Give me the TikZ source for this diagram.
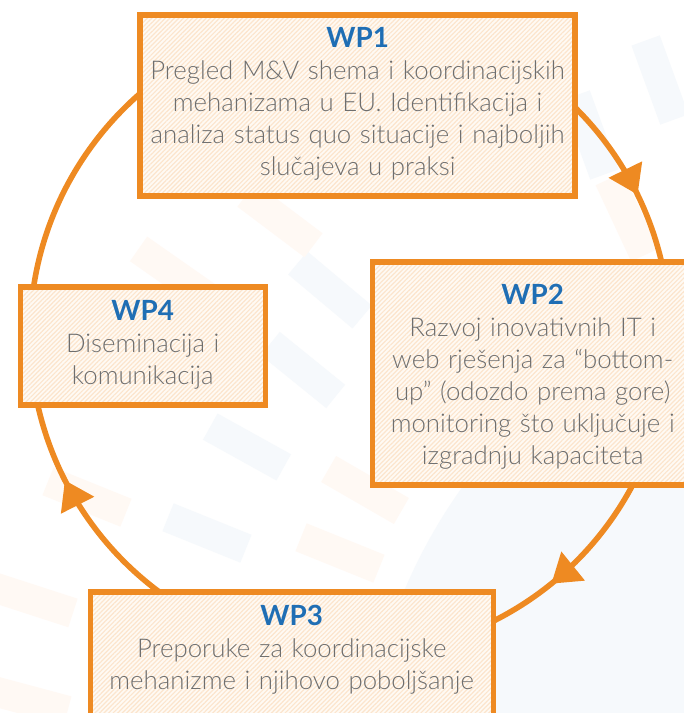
\documentclass[tikz,border=0pt]{standalone}
\usepackage{fontspec}
\setmainfont{Lato}
\IfFontExistsTF{Lato Light}{\newfontfamily\bodyfont{Lato Light}}{\newcommand\bodyfont{\normalfont}}
\usepackage{tikz}
\usetikzlibrary{positioning, arrows.meta, patterns.meta, decorations.markings}

\definecolor{wporange}{HTML}{EE8A22}
\definecolor{wpblue}{HTML}{1F6EB4}
\definecolor{bodygray}{HTML}{6E6E6E}
\definecolor{boxfill}{HTML}{FFFAF4}
\definecolor{boxline}{HTML}{FCE5CD}
\definecolor{bgblue}{HTML}{F6F9FC}
\definecolor{bgorange}{HTML}{FFF9F4}

\newcommand\wptitle[1]{{\normalfont\bfseries\fontsize{13.9}{16}\selectfont\color{wpblue}#1}}

\begin{document}
\begin{tikzpicture}[x=0.5pt, y=0.5pt,
    wpbox/.style={draw=wporange, line width=2.7pt, preaction={fill=boxfill},
        pattern={Lines[angle=45,distance=1.6pt,line width=0.6pt]}, pattern color=boxline,
        inner sep=0pt, anchor=north west, align=center, text=bodygray,
        font=\bodyfont\fontsize{12.9}{16}\selectfont},
    flow/.style={wporange, line width=2.8pt},
    tip/.style={postaction={decorate}, decoration={markings,
        mark=at position 0.5 with {\arrow{Triangle[width=18pt,length=14pt]}}}}]
    \useasboundingbox (0,0) rectangle (684,713);

    % background
    \fill[white] (0,0) rectangle (684,713);
    \fill[bgblue] (900,-87) circle[radius=269pt];
    \foreach \x/\y/\a/\c in {330/423/40/bgblue, 303/343/39/bgblue, 247/266/29/bgblue,
        207/180/22/bgblue, 660/633/70/bgblue, 590/578/70/bgblue,
        280/493/37/bgorange, 173/440/35/bgorange, 365/223/30/bgorange, 340/160/22/bgorange,
        87/216/22/bgorange, 33/113/18/bgorange, 27/13/15/bgorange, 627/496/65/bgorange}
        \fill[\c, rotate around={-\a:(\x,\y)}] (\x-42,\y-15) rectangle (\x+42,\y+15);

    % cycle
    \coordinate (ctr) at (350,378);
    \def\R{160pt}
    \draw[flow, tip] ([shift={(55:\R)}]ctr) arc[start angle=55, end angle=-3, radius=\R];
    \draw[flow, tip] ([shift={(-20:\R)}]ctr) arc[start angle=-20, end angle=-82, radius=\R];
    \draw[flow, tip] ([shift={(-120:\R)}]ctr) arc[start angle=-120, end angle=-186, radius=\R];
    \draw[flow] ([shift={(180:\R)}]ctr) arc[start angle=180, end angle=95, radius=\R];

    \node[wpbox, text width=217.5pt, text height=16.25pt, text depth=74.25pt] (wp1) at (139.5,698.5)
        {\wptitle{WP1}\\ Pregled M\&V shema i koordinacijskih\\ mehanizama u EU. Identifikacija i\\
         analiza status quo situacije i najboljih\\ slučajeva u praksi};
    \node[wpbox, text width=160.5pt, text height=21.1pt, text depth=90.4pt] (wp2) at (369.5,453.5)
        {\wptitle{WP2}\\ Razvoj inovativnih IT i\\ web rješenja za “bottom-\\ up” (odozdo prema gore)\\
         monitoring što uključuje i\\ izgradnju kapaciteta};
    \node[wpbox, text width=201.5pt, text height=16.75pt, text depth=58.5pt] (wp3) at (87.5,123.5)
        {\wptitle{WP3}\\ Preporuke za koordinacijske\\ mehanizme i njihovo poboljšanje};
    \node[wpbox, text width=122.5pt, text height=16.75pt, text depth=42.25pt] (wp4) at (17.5,428.5)
        {\wptitle{WP4}\\ Diseminacija i\\ komunikacija};
\end{tikzpicture}
\end{document}
